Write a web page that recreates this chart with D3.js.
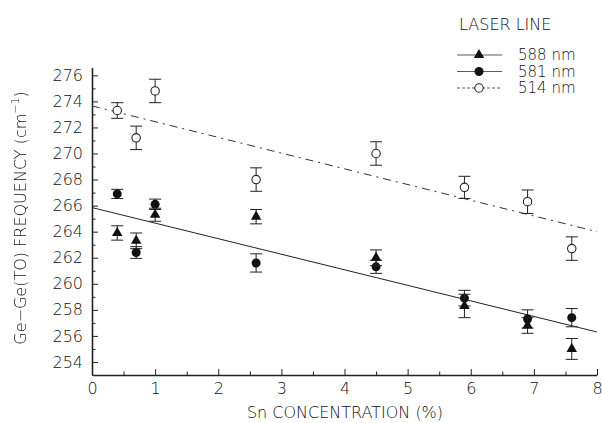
<!DOCTYPE html>
<html>
<head>
<meta charset="utf-8">
<script src="https://cdn.jsdelivr.net/npm/d3@7"></script>
<style>
  body { margin: 0; background: #fff; }
  svg text { font-family: "DejaVu Sans", sans-serif; font-weight: 200; fill: #111; }
  .y-title { filter: grayscale(1); }
</style>
</head>
<body>
<div class="viz"></div>
<script>
// Sn concentration (%) of each sample
const snConc = [0.4, 0.7, 1.0, 2.6, 4.5, 5.9, 6.9, 7.6];

// Ge-Ge(TO) frequency per laser line, with error bar half-heights
const freq588 = [263.9, 263.3, 265.3, 265.15, 262.0, 258.3, 256.8, 255.0];
const err588 = [0.55, 0.6, 0.5, 0.55, 0.6, 0.9, 0.6, 0.8];
const freq581 = [266.9, 262.4, 266.1, 261.6, 261.3, 258.9, 257.3, 257.4];
const err581 = [0.35, 0.45, 0.4, 0.7, 0.5, 0.6, 0.7, 0.7];
const freq514 = [273.3, 271.2, 274.8, 268.0, 270.0, 267.4, 266.3, 262.7];
const err514 = [0.6, 0.9, 0.9, 0.9, 0.9, 0.85, 0.9, 0.9];

// linear fits, end points
const fitX = [0, 8];
const fitSolid = [265.85, 256.3];
const fitDashDot = [273.65, 264.0];

const xTicks = [0, 1, 2, 3, 4, 5, 6, 7, 8];
const yTicks = [254, 256, 258, 260, 262, 264, 266, 268, 270, 272, 274, 276];
const legendLabels = ["588 nm", "581 nm", "514 nm"];

const width = 602, height = 423;
const fontSize = 16;

const svg = d3.select(".viz").append("svg")
  .attr("width", width)
  .attr("height", height);

const x = d3.scaleLinear().domain([0, 8]).range([92, 597]);
const y = d3.scaleLinear().domain([253, 276.6]).range([375, 67.5]);

// minor ticks
svg.append("g")
  .attr("transform", `translate(0, ${y(253)})`)
  .call(d3.axisBottom(x).tickValues(d3.range(0.5, 8, 1)).tickSize(-3.5).tickFormat(""))
  .call(g => g.select(".domain").remove())
  .call(g => g.selectAll("line").attr("stroke", "#222"));
svg.append("g")
  .attr("transform", `translate(${x(0)}, 0)`)
  .call(d3.axisLeft(y).tickValues(d3.range(255, 277, 2)).tickSize(-3.5).tickFormat(""))
  .call(g => g.select(".domain").remove())
  .call(g => g.selectAll("line").attr("stroke", "#222"));

// major axes
const xAxis = svg.append("g")
  .attr("transform", `translate(0, ${y(253)})`)
  .call(d3.axisBottom(x).tickValues(xTicks).tickSize(-6).tickSizeOuter(0).tickPadding(8));
const yAxis = svg.append("g")
  .attr("transform", `translate(${x(0)}, 0)`)
  .call(d3.axisLeft(y).tickValues(yTicks).tickSize(-6).tickSizeOuter(0).tickPadding(9));

[xAxis, yAxis].forEach(a => {
  a.select(".domain").attr("stroke", "#222").attr("stroke-width", 1.6);
  a.selectAll(".tick line").attr("stroke", "#222");
  a.selectAll("text").attr("font-size", fontSize).attr("font-family", null).attr("fill", null);
});

// fit lines
const line = d3.line().x(d => x(d[0])).y(d => y(d[1]));
svg.append("path")
  .datum(fitX.map((v, i) => [v, fitSolid[i]]))
  .attr("d", line)
  .attr("fill", "none")
  .attr("stroke", "#222")
  .attr("stroke-width", 1);
svg.append("path")
  .datum(fitX.map((v, i) => [v, fitDashDot[i]]))
  .attr("d", line)
  .attr("fill", "none")
  .attr("stroke", "#333")
  .attr("stroke-width", 1)
  .attr("stroke-dasharray", "8,5,2,5");

const series = [
  { name: "514", values: freq514, errs: err514, shape: "open" },
  { name: "581", values: freq581, errs: err581, shape: "circle" },
  { name: "588", values: freq588, errs: err588, shape: "triangle" }
];

const triangle = d3.symbol().type(d3.symbolTriangle).size(48);

function drawMarker(g, shape) {
  if (shape === "triangle") {
    g.append("path").attr("d", triangle()).attr("fill", "#111");
  } else if (shape === "circle") {
    g.append("circle").attr("r", 4.5).attr("fill", "#111");
  } else {
    g.append("circle").attr("r", 4.2).attr("fill", "#fff").attr("stroke", "#222").attr("stroke-width", 1.1);
  }
}

series.forEach(s => {
  const pts = snConc.map((c, i) => ({ c, v: s.values[i], e: s.errs[i] }));
  const g = svg.append("g").attr("class", "series-" + s.name);

  const bars = g.selectAll("g.err")
    .data(pts)
    .join("g")
    .attr("class", "err")
    .attr("stroke", "#222")
    .attr("stroke-width", 1);
  bars.append("line")
    .attr("x1", d => x(d.c)).attr("x2", d => x(d.c))
    .attr("y1", d => y(d.v - d.e)).attr("y2", d => y(d.v + d.e));
  bars.append("line")
    .attr("x1", d => x(d.c) - 6).attr("x2", d => x(d.c) + 6)
    .attr("y1", d => y(d.v + d.e)).attr("y2", d => y(d.v + d.e));
  bars.append("line")
    .attr("x1", d => x(d.c) - 6).attr("x2", d => x(d.c) + 6)
    .attr("y1", d => y(d.v - d.e)).attr("y2", d => y(d.v - d.e));

  g.selectAll("g.mark")
    .data(pts)
    .join("g")
    .attr("class", "mark")
    .attr("transform", d => `translate(${x(d.c)}, ${y(d.v)})`)
    .each(function () { drawMarker(d3.select(this), s.shape); });
});

// axis titles
svg.append("text")
  .attr("x", 345)
  .attr("y", 418)
  .attr("text-anchor", "middle")
  .attr("font-size", fontSize)
  .text("Sn CONCENTRATION (%)");

const yTitle = svg.append("text")
  .attr("class", "y-title")
  .attr("transform", "translate(26, 218) rotate(-90)")
  .attr("text-anchor", "middle")
  .attr("font-size", fontSize);
yTitle.append("tspan").text("Ge\u2212Ge(TO)  FREQUENCY (cm");
yTitle.append("tspan").attr("dy", -7).attr("font-size", 11).text("\u22121");
yTitle.append("tspan").attr("dy", 7).text(")");

// legend
const legend = svg.append("g");
legend.append("text")
  .attr("x", 459)
  .attr("y", 30)
  .attr("font-size", fontSize)
  .text("LASER LINE");

const legendShapes = ["triangle", "circle", "open"];
const legendDash = [null, null, "3,2"];
legendLabels.forEach((label, i) => {
  const ly = 55 + i * 16.5;
  legend.append("line")
    .attr("x1", 457).attr("x2", 502)
    .attr("y1", ly).attr("y2", ly)
    .attr("stroke", "#333")
    .attr("stroke-width", 0.8)
    .attr("stroke-dasharray", legendDash[i]);
  const m = legend.append("g").attr("transform", `translate(479, ${ly})`);
  drawMarker(m, legendShapes[i]);
  legend.append("text")
    .attr("x", 518)
    .attr("y", ly + 5)
    .attr("font-size", 15)
    .text(label);
});
</script>
</body>
</html>
